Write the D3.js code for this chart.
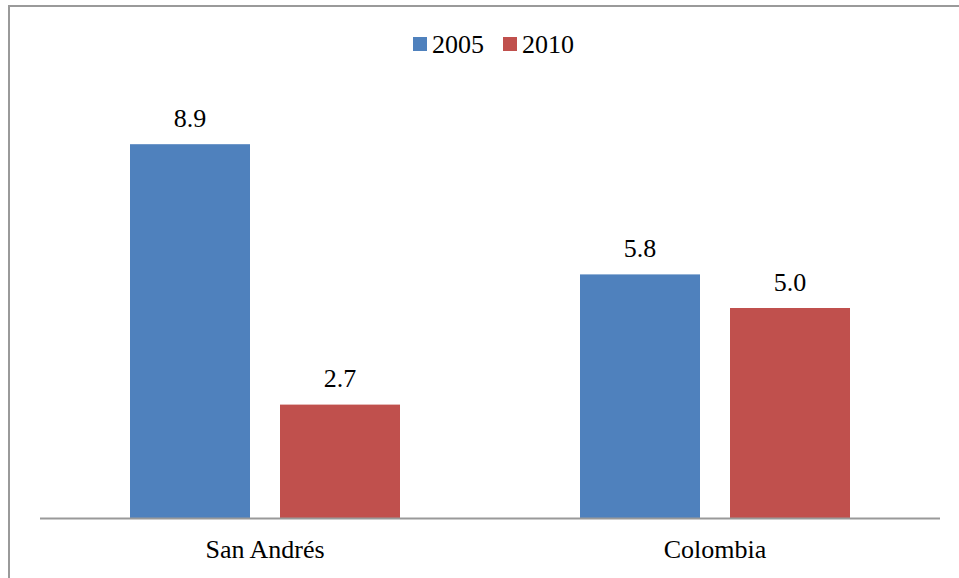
<!DOCTYPE html>
<html>
<head>
<meta charset="utf-8">
<script src="https://cdn.jsdelivr.net/npm/d3@7"></script>
<style>
  html, body { margin: 0; padding: 0; background: #fff; }
  svg { display: block; }
</style>
</head>
<body>
<script>
const categories = ["San Andrés", "Colombia"];
const seriesNames = ["2005", "2010"];
const values2005 = [8.9, 5.8];
const values2010 = [2.7, 5.0];
const seriesColors = ["#4F81BD", "#C0504D"];

const FONT = '"Liberation Serif", "Times New Roman", Tinos, serif';
const W = 959, H = 578;
const svg = d3.select("body").append("svg").attr("width", W).attr("height", H);

// frame (only top and left edges visible in the reference)
svg.append("rect")
  .attr("x", 9).attr("y", 6)
  .attr("width", W + 20).attr("height", H + 20)
  .attr("fill", "none").attr("stroke", "#9a9a9a").attr("stroke-width", 2);

const x0 = d3.scaleBand().domain(categories).range([40, 940]).padding(0);
const x1 = d3.scaleBand().domain(seriesNames).range([90, 360]).paddingInner(0.2).paddingOuter(0);
const y = d3.scaleLinear().domain([0, 10]).range([518, 98]);

const data = categories.map((c, i) => ({
  cat: c,
  vals: [
    { s: seriesNames[0], v: values2005[i], color: seriesColors[0] },
    { s: seriesNames[1], v: values2010[i], color: seriesColors[1] }
  ]
}));

const groups = svg.selectAll("g.grp").data(data).join("g")
  .attr("class", "grp")
  .attr("transform", d => `translate(${x0(d.cat)},0)`);

groups.selectAll("rect").data(d => d.vals).join("rect")
  .attr("x", d => x1(d.s))
  .attr("y", d => y(d.v))
  .attr("width", x1.bandwidth())
  .attr("height", d => y(0) - y(d.v))
  .attr("fill", d => d.color);

groups.selectAll("text.val").data(d => d.vals).join("text")
  .attr("class", "val")
  .attr("x", d => x1(d.s) + x1.bandwidth() / 2)
  .attr("y", d => y(d.v) - 17.5)
  .attr("text-anchor", "middle")
  .style("font-family", FONT)
  .style("font-size", "26px")
  .style("fill", "#000")
  .text(d => d3.format(".1f")(d.v));

// x axis
const xAxis = d3.axisBottom(x0).tickSize(0).tickPadding(0);
const ax = svg.append("g").attr("transform", `translate(0,${y(0)})`).call(xAxis);
ax.select(".domain").attr("stroke", "#999").attr("stroke-width", 2).attr("d", "M40,0.5H940");
ax.selectAll(".tick text")
  .style("font-family", FONT)
  .style("font-size", "26px")
  .style("fill", "#000")
  .attr("dy", null)
  .attr("y", 40);

// legend
const legendX = [413, 503];
const lg = svg.append("g");
seriesNames.forEach((s, i) => {
  lg.append("rect").attr("x", legendX[i]).attr("y", 37).attr("width", 14).attr("height", 14).attr("fill", seriesColors[i]);
  lg.append("text").attr("x", legendX[i] + 19).attr("y", 53)
    .style("font-family", FONT).style("font-size", "26px").style("fill", "#000")
    .text(s);
});
</script>
</body>
</html>
